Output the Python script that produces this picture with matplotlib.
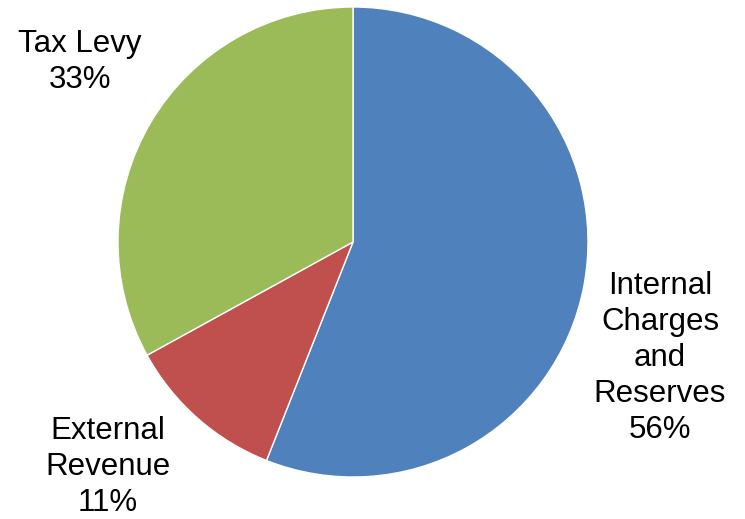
import matplotlib.pyplot as plt

plt.rcParams['font.family'] = ['Liberation Sans', 'DejaVu Sans']

labels = ["Internal\nCharges\nand\nReserves", "External\nRevenue", "Tax Levy"]
shares = [56, 11, 33]
colors = ["#4F81BD", "#C0504D", "#9BBB59"]

W, H = 745, 519
fig = plt.figure(figsize=(W / 100, H / 100), dpi=100)

# pie centre and radius in pixels
cx, cy, r = 353, 242, 235
ax = fig.add_axes([(cx - r) / W, 1 - (cy + r) / H, 2 * r / W, 2 * r / H])

ax.pie(shares, colors=colors, startangle=90, counterclock=False, radius=1,
       wedgeprops=dict(edgecolor="white", linewidth=1))
ax.set_xlim(-1, 1)
ax.set_ylim(-1, 1)
ax.set_aspect("equal")
ax.axis("off")

# label anchor points (pixel centres of each text block)
label_pos = [(660, 358), (108, 467), (80, 62)]
for lab, val, (px, py) in zip(labels, shares, label_pos):
    fig.text(px / W, 1 - py / H, f"{lab}\n{val}%", ha="center", va="center",
             fontsize=22.5, linespacing=1.27, color="black")

fig.savefig("out.png", dpi=100)
